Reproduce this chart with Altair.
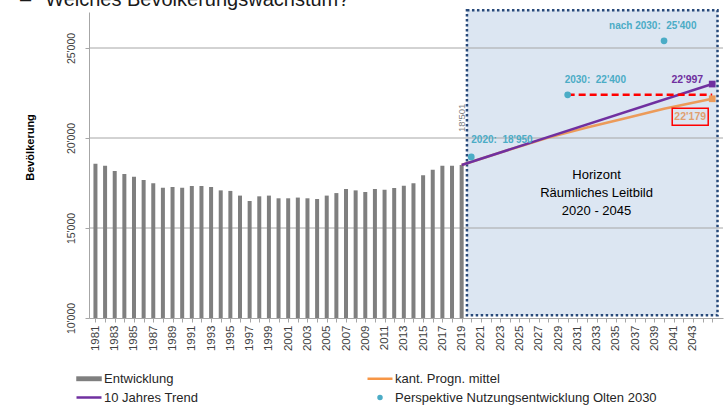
import altair as alt
import pandas as pd

# Population development (Olten), 1981-2019
years_hist = list(range(1981, 2020))
pop_hist = [18570, 18460, 18170, 18000, 17850, 17670, 17480, 17240, 17280, 17240,
            17330, 17330, 17280, 17090, 17060, 16800, 16500, 16760, 16800, 16650,
            16650, 16690, 16650, 16610, 16800, 16940, 17170, 17090, 17000, 17170,
            17130, 17220, 17350, 17480, 17930, 18240, 18460, 18460, 18501]

# 10-year trend and cantonal forecast (medium scenario)
trend_years = [2019, 2045]
trend_vals = [18501, 22997]
progn_years = [2019, 2024, 2028, 2032, 2036, 2040, 2045]
progn_vals = [18501, 19360, 20020, 20580, 21100, 21620, 22179]

# Perspective "Nutzungsentwicklung Olten 2030"
persp_years = [2020, 2030, 2040]
persp_vals = [18950, 22400, 25400]
persp_prefix = ["2020:", "2030:", "nach 2030:"]

# Target level 2030 carried forward to the horizon
target_years = [2030, 2045]

# Planning horizon (band between 2019 and the end of the axis)
horizon_x = [2019.55, 2045.55]
horizon_y = [10150, 27100]
horizon_text = "Horizont\nRäumliches Leitbild\n2020 - 2045"

grid_vals = [15000, 20000, 25000]
y_ticks = [10000, 15000, 20000, 25000]
x_ticks = list(range(1981, 2046))

heading = "–\u2002\u2009Welches Bevölkerungswachstum?"

# Legend entries, listed column by column
legend_names = ["Entwicklung", "10 Jahres Trend", "kant. Progn. mittel",
                "Perspektive Nutzungsentwicklung Olten 2030"]

GREY = "#7f7f7f"
PURPLE = "#7030a0"
ORANGE = "#ec9b5a"
BLUE = "#4bacc6"
RED = "#ff0000"


def fmt(v):
    return f"{v:,}".replace(",", "'")


XS = alt.Scale(domain=[1980.85, 2045.6], nice=False, zero=False)
YS = alt.Scale(domain=[10000, 27000], nice=False, zero=False)

x_axis = alt.Axis(values=x_ticks, format="d",
                  labelExpr="datum.value % 2 == 1 && datum.value <= 2043 ? datum.label : ''",
                  labelAngle=270, labelAlign="right", labelBaseline="middle",
                  labelFontSize=11.5, labelColor="#404040", labelPadding=3,
                  labelOverlap=False, labelFlush=False, labelBound=False,
                  tickSize=4, tickColor="#a6a6a6", domainColor="#a6a6a6",
                  grid=False, title=None)
y_axis = alt.Axis(values=y_ticks,
                  labelExpr="replace(format(datum.value, ','), ',', \"'\")",
                  labelAngle=270, labelAlign="center", labelBaseline="bottom",
                  labelFontSize=10.5, labelColor="#404040", labelPadding=9,
                  labelOverlap=False,
                  tickSize=4, tickColor="#a6a6a6", domainColor="#a6a6a6",
                  grid=False, title="Bevölkerung", titleFontSize=11,
                  titleFontWeight="bold", titleColor="#000000", titleAngle=270,
                  titleAlign="center", titleBaseline="middle", titleX=-59, titleY=135)


def qx(f):
    return alt.X(f, type="quantitative", scale=XS, axis=x_axis)


def qy(f):
    return alt.Y(f, type="quantitative", scale=YS, axis=y_axis)


hist = pd.DataFrame({"Jahr": years_hist, "Bev": pop_hist})
trend = pd.DataFrame({"Jahr": trend_years, "Bev": trend_vals})
progn = pd.DataFrame({"Jahr": progn_years, "Bev": progn_vals})
persp = pd.DataFrame({"Jahr": persp_years, "Bev": persp_vals,
                      "label": [f"{p}\u00a0 {fmt(v)}" for p, v in zip(persp_prefix, persp_vals)],
                      "i": [0, 1, 2]})
target = pd.DataFrame({"Jahr": target_years, "Bev": [persp_vals[1]] * 2})
trend_end = trend.tail(1).assign(label=fmt(trend_vals[-1]))
progn_end = progn.tail(1).assign(label=fmt(progn_vals[-1]))
last_bar = hist.tail(1).assign(label=fmt(pop_hist[-1]))

box = alt.Chart(pd.DataFrame({"x1": [horizon_x[0]], "x2": [horizon_x[1]],
                              "y1": [horizon_y[0]], "y2": [horizon_y[1]]})).mark_rect(
    fill="#dce6f2", stroke="#27497a", strokeWidth=2.5, strokeDash=[2.5, 2.5]
).encode(x=qx("x1"), x2="x2:Q", y=qy("y1"), y2="y2:Q")

grid = alt.Chart(pd.DataFrame({"v": grid_vals})).mark_rule(
    color="#a6a6a6", strokeWidth=1
).encode(y=qy("v"))

bars = alt.Chart(hist).mark_bar(size=4, color=GREY).encode(
    x=qx("Jahr"), y=qy("Bev"), y2=alt.datum(10000)
)

progn_line = alt.Chart(progn).mark_line(color=ORANGE, strokeWidth=2.5).encode(
    x=qx("Jahr"), y=qy("Bev"))
trend_line = alt.Chart(trend).mark_line(color=PURPLE, strokeWidth=2.5).encode(
    x=qx("Jahr"), y=qy("Bev"))
target_line = alt.Chart(target).mark_line(color=RED, strokeWidth=2.5, strokeDash=[7, 4]).encode(
    x=qx("Jahr"), y=qy("Bev"))

progn_sq = alt.Chart(progn_end).mark_square(size=45, color=ORANGE, opacity=1).encode(
    x=qx("Jahr"), y=qy("Bev"))
trend_sq = alt.Chart(trend_end).mark_square(size=45, color=PURPLE, opacity=1).encode(
    x=qx("Jahr"), y=qy("Bev"))

persp_pts = alt.Chart(persp).mark_circle(size=45, color=BLUE, opacity=1).encode(
    x=qx("Jahr"), y=qy("Bev"))


def persp_label(i, dx, dy):
    return alt.Chart(persp).transform_filter(alt.datum.i == i).mark_text(
        align="left", baseline="middle", dx=dx, dy=dy, fontSize=10,
        fontWeight="bold", color=BLUE
    ).encode(x=qx("Jahr"), y=qy("Bev"), text="label:N")


trend_lbl = alt.Chart(trend_end).mark_text(
    align="right", baseline="middle", dx=-9, dy=-4, fontSize=10.5,
    fontWeight="bold", color=PURPLE
).encode(x=qx("Jahr"), y=qy("Bev"), text="label:N")

progn_lbl = alt.Chart(progn_end).mark_text(
    align="center", baseline="middle", dx=-22, dy=18, fontSize=10.5,
    fontWeight="bold", color="#e0a070"
).encode(x=qx("Jahr"), y=qy("Bev"), text="label:N")

progn_frame = alt.Chart(progn_end).mark_point(
    shape="M-1,-0.47H1V0.47H-1Z", size=1296, filled=False, stroke=RED,
    strokeWidth=1.5, opacity=1, xOffset=-22, yOffset=18
).encode(x=qx("Jahr"), y=qy("Bev"))

bar_lbl = alt.Chart(last_bar).mark_text(
    angle=270, align="left", baseline="middle", dx=33, fontSize=9.5, color=GREY
).encode(x=qx("Jahr"), y=qy("Bev"), text="label:N")

horizon_lbl = alt.Chart(pd.DataFrame({"t": [horizon_text]})).mark_text(
    align="center", baseline="middle", fontSize=13, lineHeight=18,
    lineBreak="\n", color="#000000"
).encode(x=alt.datum(2033, scale=XS, axis=x_axis),
         y=alt.datum(17944, scale=YS, axis=y_axis), text="t:N")

# Slide heading above the plot, partly cut by the page top
heading_lbl = alt.Chart(pd.DataFrame({"t": [heading]})).mark_text(
    align="left", baseline="alphabetic", fontSize=20, color="#1a1a1a"
).encode(x=alt.value(-69), y=alt.value(-6), text="t:N")

# Legend: symbols via fill/stroke/shape scales of one hidden layer
legend_fill = [GREY, PURPLE, "#f79646", BLUE]
legend_shape = ["M-1.15,-0.12H1.15V0.12H-1.15Z", "M-1.25,0H1.25", "M-1.25,0H1.25",
                "M0.15,0A0.15,0.15,0,1,1,-0.15,0A0.15,0.15,0,1,1,0.15,0Z"]
leg = alt.Legend(title=None, orient="none", legendX=-11.5, legendY=355,
                 direction="vertical", columns=2, columnPadding=164, rowPadding=0,
                 symbolSize=400, symbolStrokeWidth=2.5, labelFontSize=13,
                 labelColor="#262626", labelOffset=3.5, padding=0,
                 symbolOpacity=1, labelLimit=400)
legend_layer = alt.Chart(pd.DataFrame({"Serie": legend_names})).mark_point(
    filled=True, size=400, strokeWidth=2.5, opacity=1
).encode(
    x=alt.value(0), y=alt.value(700),
    fill=alt.Fill("Serie:N", scale=alt.Scale(domain=legend_names, range=legend_fill), legend=leg),
    stroke=alt.Stroke("Serie:N", scale=alt.Scale(domain=legend_names, range=legend_fill), legend=leg),
    shape=alt.Shape("Serie:N", scale=alt.Scale(domain=legend_names, range=legend_shape), legend=leg),
)

chart = alt.layer(
    box, grid, bars, progn_line, trend_line, target_line, progn_sq, trend_sq,
    persp_pts, persp_label(0, 0, -17), persp_label(1, -3, -15), persp_label(2, -55, -15),
    trend_lbl, progn_lbl, progn_frame, bar_lbl, horizon_lbl, heading_lbl, legend_layer,
).properties(
    width=634, height=306,
    autosize=alt.AutoSizeParams(type="none"),
    padding={"left": 89, "top": 12, "right": 5, "bottom": 88},
).configure(
    font="Liberation Sans", background="white"
).configure_axis(
    labelOverlap=False
).configure_view(stroke=None)

chart.save("out.html", embed_options={"renderer": "svg", "actions": False})
